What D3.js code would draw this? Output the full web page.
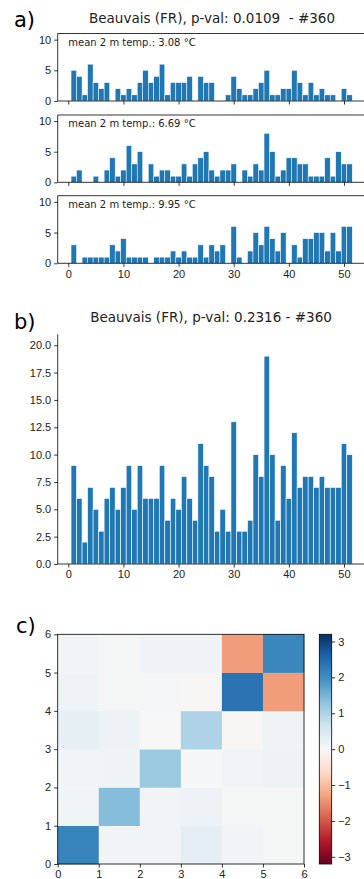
<!DOCTYPE html>
<html>
<head>
<meta charset="utf-8">
<script src="https://cdn.jsdelivr.net/npm/d3@7"></script>
<style>
  body { margin: 0; background: #fff; }
  svg { display: block; font-family: "DejaVu Sans", sans-serif; }
</style>
</head>
<body>
<svg id="chart" width="364" height="879"></svg>
<script>
// weekly counts, Beauvais (FR)
const weeks = [1,2,3,4,5,6,7,8,9,10,11,12,13,14,15,16,17,18,19,20,21,22,23,24,25,26,
  27,28,29,30,31,32,33,34,35,36,37,38,39,40,41,42,43,44,45,46,47,48,49,50,51];
const countsCold = [5,4,1,6,3,2,3,0,2,1,2,1,3,5,3,4,6,1,3,3,3,4,0,4,3,3,0,0,1,4,2,1,1,2,3,5,1,1,2,2,5,3,1,3,1,2,1,1,0,2,1];
const countsMid  = [1,2,0,0,1,0,2,4,1,2,6,3,5,0,3,1,2,2,1,1,3,1,3,4,5,2,1,2,2,3,0,2,1,3,2,8,5,1,2,4,4,3,3,1,1,1,4,1,5,3,3];
const countsWarm = [3,0,1,1,1,1,1,3,2,4,1,1,1,1,0,1,1,1,2,1,2,1,1,3,1,3,2,3,0,6,1,0,2,5,3,6,4,2,5,0,3,1,4,4,5,5,2,5,2,6,6];
const countsAll  = [9,6,2,7,5,3,6,7,5,7,9,5,9,6,6,6,9,4,6,5,8,6,4,11,9,8,3,5,3,13,3,3,4,10,8,19,10,4,9,6,12,7,8,8,7,8,7,7,7,11,10];
const meanLabels = ["mean 2 m temp.: 3.08 °C", "mean 2 m temp.: 6.69 °C", "mean 2 m temp.: 9.95 °C"];
const titleA = "Beauvais (FR), p-val: 0.0109  - #360";
const titleB = "Beauvais (FR), p-val: 0.2316 - #360";
const smallTicks = [0, 5, 10];
const bigTicks = [0, 2.5, 5, 7.5, 10, 12.5, 15, 17.5, 20];
const weekTicks = [0, 10, 20, 30, 40, 50];
// transition matrix, row 0 at the bottom
const matrix = [
  [2.15, 0.12, 0.12, 0.32, 0.12, 0.05],
  [0.12, 1.38, 0.12, 0.18, 0.05, 0.05],
  [0.12, 0.15, 1.20, 0.03, 0.10, 0.18],
  [0.30, 0.18, 0.00, 1.00, -0.05, 0.15],
  [0.15, 0.05, 0.07, -0.03, 2.37, -1.35],
  [0.12, 0.05, 0.15, 0.15, -1.35, 2.09]
];
const gridTicks = [0, 1, 2, 3, 4, 5, 6];
const cbarTicks = [3, 2, 1, 0, -1, -2, -3];
// RdBu anchors (ColorBrewer, as in matplotlib)
const rdbu = ['#67001f','#b2182b','#d6604d','#f4a582','#fddbc7','#f7f7f7',
  '#d1e5f0','#92c5de','#4393c3','#2166ac','#053061'];

const svg = d3.select('#chart');
const blue = '#1f77b4';
const tickCol = '#222';

const x = d3.scaleLinear().domain([-1.92, 53.7]).range([57.7, 364.4]);

const yAxisLeft = (g, y, ticks, fmt) => {
  g.call(d3.axisLeft(y).tickValues(ticks).tickSize(3.5).tickPadding(3).tickFormat(fmt))
    .call(s => s.select('.domain').remove())
    .call(s => s.selectAll('text').attr('fill', tickCol).style('font-size', '11px'))
    .call(s => s.selectAll('line').attr('stroke', '#000').attr('stroke-width', 0.8));
};

const xAxisBottom = (g, sc, ticks, labels) => {
  g.call(d3.axisBottom(sc).tickValues(ticks).tickSize(3.5).tickPadding(3)
      .tickFormat(labels ? d3.format('d') : ''))
    .call(s => s.select('.domain').remove())
    .call(s => s.selectAll('text').attr('fill', tickCol).style('font-size', '11px'))
    .call(s => s.selectAll('line').attr('stroke', '#000').attr('stroke-width', 0.8));
};

// ---- a) three seasonal histograms
const panelsA = [
  { data: countsCold, top: 33.5, bottom: 101 },
  { data: countsMid, top: 115, bottom: 182.3 },
  { data: countsWarm, top: 195.7, bottom: 263.3 }
];

svg.append('text').attr('x', 14).attr('y', 27).style('font-size', '21px').attr('fill', '#000').text('a)');
svg.append('text').attr('x', 212).attr('y', 23).attr('text-anchor', 'middle')
  .style('font-size', '13.5px').style('white-space', 'pre').attr('fill', tickCol).text(titleA);

panelsA.forEach((p, k) => {
  const y = d3.scaleLinear().domain([0, 11]).range([p.bottom, p.top]);
  const g = svg.append('g');
  g.selectAll('rect.bar')
    .data(p.data.map((v, i) => ({ w: weeks[i], v })).filter(d => d.v > 0))
    .enter()
    .append('rect')
    .attr('class', 'bar')
    .attr('x', d => x(d.w - 0.5))
    .attr('width', x(1) - x(0))
    .attr('y', d => y(d.v))
    .attr('height', d => y(0) - y(d.v))
    .attr('fill', blue)
    .attr('stroke', '#fff')
    .attr('stroke-width', 0.5);
  // frame
  g.append('line').attr('x1', x.range()[0]).attr('x2', 364).attr('y1', p.top).attr('y2', p.top)
    .attr('stroke', '#000').attr('stroke-width', 0.8);
  g.append('line').attr('x1', x.range()[0]).attr('x2', x.range()[0]).attr('y1', p.top).attr('y2', p.bottom)
    .attr('stroke', '#000').attr('stroke-width', 0.8);
  g.append('line').attr('x1', x.range()[0]).attr('x2', 364).attr('y1', p.bottom).attr('y2', p.bottom)
    .attr('stroke', '#000').attr('stroke-width', 0.8);
  g.append('g').attr('transform', `translate(${x.range()[0]},0)`)
    .call(s => yAxisLeft(s, y, smallTicks, d3.format('d')));
  g.append('g').attr('transform', `translate(0,${p.bottom})`)
    .call(s => xAxisBottom(s, x, weekTicks, k === 2));
  g.append('text').attr('x', 68.3).attr('y', p.top + 12.3)
    .style('font-size', '10px').attr('fill', tickCol).text(meanLabels[k]);
});

// ---- b) whole-year histogram
const yB = d3.scaleLinear().domain([0, 21]).range([564, 334.3]);
svg.append('text').attr('x', 14).attr('y', 329).style('font-size', '21px').attr('fill', '#000').text('b)');
svg.append('text').attr('x', 211).attr('y', 322.3).attr('text-anchor', 'middle')
  .style('font-size', '13.5px').attr('fill', tickCol).text(titleB);

const gB = svg.append('g');
gB.selectAll('rect')
  .data(countsAll.map((v, i) => ({ w: weeks[i], v })))
  .enter()
  .append('rect')
  .attr('x', d => x(d.w - 0.5))
  .attr('width', x(1) - x(0))
  .attr('y', d => yB(d.v))
  .attr('height', d => yB(0) - yB(d.v))
  .attr('fill', blue)
  .attr('stroke', '#fff')
  .attr('stroke-width', 0.6);
gB.append('line').attr('x1', x.range()[0]).attr('x2', x.range()[0]).attr('y1', 334.3).attr('y2', 564)
  .attr('stroke', '#000').attr('stroke-width', 0.8);
gB.append('line').attr('x1', x.range()[0]).attr('x2', 364).attr('y1', 564).attr('y2', 564)
  .attr('stroke', '#000').attr('stroke-width', 0.8);
gB.append('g').attr('transform', `translate(${x.range()[0]},0)`)
  .call(s => yAxisLeft(s, yB, bigTicks, d3.format('.1f')));
gB.append('g').attr('transform', 'translate(0,564)')
  .call(s => xAxisBottom(s, x, weekTicks, true));

// ---- c) heatmap with colorbar
const vmax = 3.2;
const cmap = d3.scaleLinear()
  .domain(rdbu.map((c, i) => i / (rdbu.length - 1)))
  .range(rdbu)
  .interpolate(d3.interpolateRgb);
const color = v => cmap((v + vmax) / (2 * vmax));
const xC = d3.scaleLinear().domain([0, 6]).range([57.7, 304]);
const yC = d3.scaleLinear().domain([0, 6]).range([864, 634.3]);

svg.append('text').attr('x', 16).attr('y', 633).style('font-size', '21px').attr('fill', '#000').text('c)');

const cells = [];
matrix.forEach((row, r) => row.forEach((v, c) => cells.push({ r, c, v })));
const gC = svg.append('g');
gC.selectAll('rect')
  .data(cells)
  .enter()
  .append('rect')
  .attr('x', d => xC(d.c))
  .attr('y', d => yC(d.r + 1))
  .attr('width', xC(1) - xC(0) + 0.3)
  .attr('height', yC(0) - yC(1) + 0.3)
  .attr('fill', d => color(d.v));
gC.append('rect').attr('x', xC(0)).attr('y', yC(6)).attr('width', xC(6) - xC(0)).attr('height', yC(0) - yC(6))
  .attr('fill', 'none').attr('stroke', '#000').attr('stroke-width', 0.8);
gC.append('g').attr('transform', `translate(${xC(0)},0)`)
  .call(s => yAxisLeft(s, yC, gridTicks, d3.format('d')));
gC.append('g').attr('transform', `translate(0,${yC(0)})`)
  .call(s => xAxisBottom(s, xC, gridTicks, true));

// colorbar
const cbX = 319.3, cbW = 12.4;
const yCb = d3.scaleLinear().domain([-vmax, vmax]).range([864, 634.3]);
const grad = svg.append('defs').append('linearGradient')
  .attr('id', 'cbgrad').attr('x1', 0).attr('y1', 1).attr('x2', 0).attr('y2', 0);
grad.selectAll('stop')
  .data(rdbu.map((c, i) => i / (rdbu.length - 1)))
  .enter()
  .append('stop')
  .attr('offset', d => d)
  .attr('stop-color', d => cmap(d));
svg.append('rect').attr('x', cbX).attr('y', yCb(vmax)).attr('width', cbW).attr('height', yCb(-vmax) - yCb(vmax))
  .attr('fill', 'url(#cbgrad)').attr('stroke', '#000').attr('stroke-width', 0.8);
svg.append('g').attr('transform', `translate(${cbX + cbW},0)`)
  .call(d3.axisRight(yCb).tickValues(cbarTicks).tickSize(3.5).tickPadding(3)
    .tickFormat(d => d < 0 ? '\u2212' + Math.abs(d) : String(d)))
  .call(s => s.select('.domain').remove())
  .call(s => s.selectAll('text').attr('fill', tickCol).style('font-size', '11px'))
  .call(s => s.selectAll('line').attr('stroke', '#000').attr('stroke-width', 0.8));
</script>
</body>
</html>
